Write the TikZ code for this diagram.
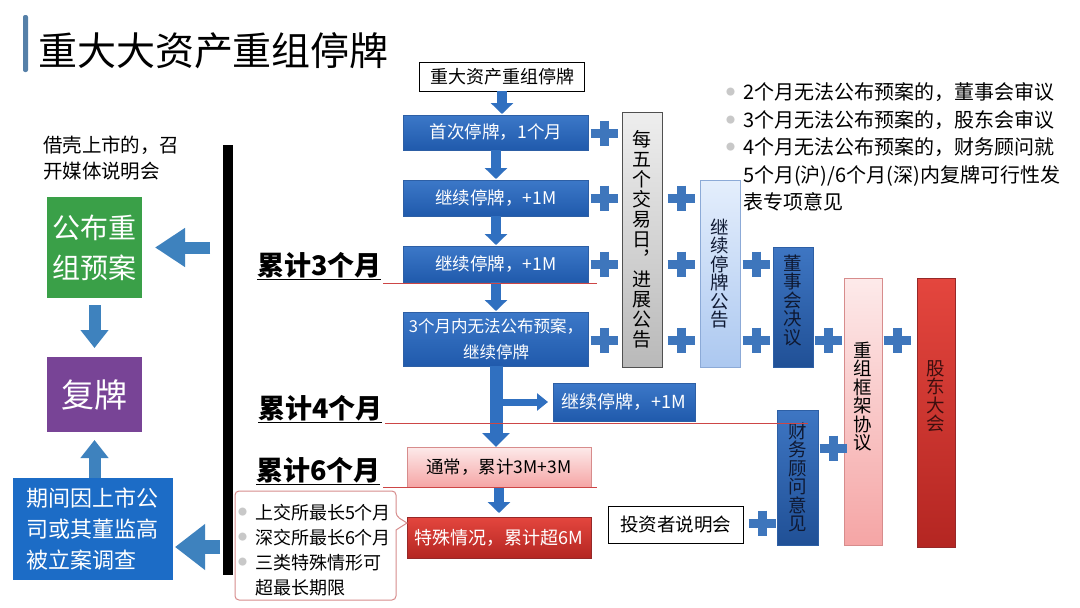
\documentclass[tikz,border=0pt]{standalone}
\usepackage{fontspec}
\setmainfont{Noto Sans CJK SC}
\usepackage{tikz}
\usetikzlibrary{arrows.meta,positioning}

\definecolor{blueA}{RGB}{60,120,200}
\definecolor{blueB}{RGB}{32,90,172}
\definecolor{blueLine}{RGB}{45,95,165}
\definecolor{grayA}{RGB}{238,238,238}
\definecolor{grayB}{RGB}{185,185,185}
\definecolor{grayLine}{RGB}{80,80,80}
\definecolor{skyA}{RGB}{228,238,252}
\definecolor{skyB}{RGB}{172,200,240}
\definecolor{skyLine}{RGB}{140,170,215}
\definecolor{navyA}{RGB}{62,118,195}
\definecolor{navyB}{RGB}{32,80,150}
\definecolor{roseA}{RGB}{253,234,234}
\definecolor{roseB}{RGB}{245,165,165}
\definecolor{roseLine}{RGB}{215,140,140}
\definecolor{crimA}{RGB}{228,70,62}
\definecolor{crimB}{RGB}{180,38,34}
\definecolor{crimLine}{RGB}{150,40,40}
\definecolor{planGreen}{RGB}{58,160,72}
\definecolor{resPurple}{RGB}{120,68,150}
\definecolor{probeBlue}{RGB}{28,108,198}
\definecolor{arrBlue}{RGB}{48,112,192}
\definecolor{sideBlue}{RGB}{62,130,190}
\definecolor{plusBlue}{RGB}{62,118,188}
\definecolor{markRed}{RGB}{205,70,70}
\definecolor{bulGray}{RGB}{200,200,200}
\definecolor{titleBar}{RGB}{85,128,168}
\definecolor{textNavy}{RGB}{15,25,50}

\newcommand{\dotitem}{\makebox[17pt][l]{\raisebox{4pt}{\textcolor{bulGray}{\fontsize{9}{9}\selectfont ●}}}}

\begin{document}
\begin{tikzpicture}[x=1pt, y=-1pt,
  every node/.style={inner sep=0pt, outer sep=0pt},
  plainbox/.style={draw=black, line width=1pt, fill=white, minimum width=165pt,
                   minimum height=29pt, font=\fontsize{18}{18}\selectfont},
  bluebox/.style={draw=blueLine, top color=blueA, bottom color=blueB, text=white,
                  minimum width=185pt, align=center, font=\fontsize{17.5}{26}\selectfont},
  rosebox/.style={draw=roseLine, top color=roseA, bottom color=roseB, minimum width=184pt,
                  font=\fontsize{17.5}{17.5}\selectfont},
  crimbox/.style={draw=crimLine, top color=crimA, bottom color=crimB, text=white,
                  minimum width=184pt, font=\fontsize{18}{18}\selectfont},
  vbox/.style={minimum width=40pt, align=center, font=\fontsize{18.5}{18.5}\selectfont},
  graybox/.style={vbox, draw=grayLine, top color=grayA, bottom color=grayB,
                  font=\fontsize{19}{20}\selectfont},
  skybox/.style={vbox, draw=skyLine, top color=skyA, bottom color=skyB, text=textNavy},
  navybox/.style={vbox, draw=blueLine, top color=navyA, bottom color=navyB, text=textNavy},
  rosevbox/.style={vbox, minimum width=38pt, draw=roseLine, top color=roseA, bottom color=roseB},
  crimvbox/.style={vbox, minimum width=38pt, draw=crimLine, top color=crimA, bottom color=crimB,
                   text={rgb,255:red,60;green,15;blue,15}},
  month/.style={anchor=base west, font=\bfseries\fontsize{27}{27}\selectfont},
  colarr/.style={draw=arrBlue, line width=10pt, -{Triangle[width=22pt,length=11pt]}},
  bigarr/.style={draw=arrBlue, line width=13pt, -{Triangle[width=27pt,length=14pt]}},
  sidearr/.style={draw=arrBlue, line width=7pt, -{Triangle[width=17pt,length=11pt]}},
  leftarr/.style={draw=sideBlue, line width=12pt, -{Triangle[width=37pt,length=30pt]}},
  vertarr/.style={draw=sideBlue, line width=12pt, -{Triangle[width=27pt,length=18pt]}},
  redline/.style={draw=markRed, line width=1pt},
  plusmark/.pic={\draw[plusBlue, line width=9pt] (-13.5,0) -- (13.5,0) (0,-12.5) -- (0,12.5);}
]
\fill[white] (0,0) rectangle (1080,608);
\useasboundingbox (0,0) rectangle (1080,608);

% title
\fill[titleBar, rounded corners=2pt] (23,15) rectangle (28,72);
\node[anchor=base west, font=\fontsize{39}{39}\selectfont] (title) at (38,65) {重大大资产重组停牌};

% main column
\node[plainbox] (start) at (502,76.5) {重大资产重组停牌};
\node[bluebox, minimum height=35pt, below=24pt of start, xshift=-6pt] (first) {首次停牌，1个月};
\node[bluebox, minimum height=36pt, below=30pt of first] (cont1) {继续停牌，+1M};
\node[bluebox, minimum height=36pt, below=30pt of cont1] (cont2) {继续停牌，+1M};
\node[bluebox, minimum height=54pt, below=30pt of cont2, font=\fontsize{16.5}{26}\selectfont] (noplan) {3个月内无法公布预案，\\继续停牌};
\node[rosebox, minimum height=40pt, below=81pt of noplan, xshift=3pt] (usual) {通常，累计3M+3M};
\node[crimbox, minimum height=41pt, below=30pt of usual] (special) {特殊情况，累计超6M};
\node[bluebox, minimum width=142pt, minimum height=38pt, font=\fontsize{18}{18}\selectfont] (cont3) at (624,402) {继续停牌，+1M};

\draw[colarr, shorten >=1pt] (start.south) -- (start.south |- first.north);
\draw[colarr, shorten >=1pt] (first) -- (cont1);
\draw[colarr, shorten >=1pt] (cont1) -- (cont2);
\draw[colarr, shorten >=1pt] (cont2) -- (noplan);
\coordinate (fork) at (noplan.south |- cont3.west);
\draw[bigarr] (noplan.south) -- (noplan.south |- usual.north);
\draw[sidearr, shorten >=5pt] (fork) -- (cont3.west);
\draw[colarr, shorten >=4pt, shorten <=1pt] (usual.south -| special.north) -- (special.north);

% right side
\node[graybox, minimum height=255pt] (weekly) at (642,239.5) {每\\五\\个\\交\\易\\日\\︐\\进\\展\\公\\告};
\node[skybox, minimum height=187pt] (notice) at (720,273.5) {继\\续\\停\\牌\\公\\告};
\node[navybox, minimum height=120pt, text depth=15pt] (board) at (793,307) {董\\事\\会\\决\\议};
\node[rosevbox, minimum height=267pt, text depth=31pt] (frame) at (863,411.5) {重\\组\\框\\架\\协\\议};
\node[crimvbox, minimum height=269pt, text depth=34pt] (meeting) at (936,412.5) {股\\东\\大\\会};
\node[navybox, minimum width=41pt, minimum height=135pt] (advisor) at (797.5,477.5) {财\\务\\顾\\问\\意\\见};
\node[plainbox, minimum width=135pt, minimum height=37pt, font=\fontsize{18.5}{18.5}\selectfont] (investor) at (675.5,524.5) {投资者说明会};

\foreach \px/\py in {604/133, 604/198, 604/264, 604/340, 681/198, 681/264, 681/340,
                     756/264, 756/340, 828/340, 897/340, 833/448, 762/523}
  \pic at (\px,\py) {plusmark};

\node[anchor=west, align=left, font=\fontsize{20}{27.5}\selectfont] (rules) at (726,147)
  {\dotitem 2个月无法公布预案的，董事会审议\\
   \dotitem 3个月无法公布预案的，股东会审议\\
   \dotitem 4个月无法公布预案的，财务顾问就\\
   \hphantom{\dotitem}5个月(沪)/6个月(深)内复牌可行性发\\
   \hphantom{\dotitem}表专项意见};

% left side
\node[fill=black, minimum width=10pt, minimum height=430pt] (bar) at (228,360) {};
\node[anchor=west, align=left, font=\fontsize{19.5}{26}\selectfont] (shellnote) at (43,158) {借壳上市的，召\\开媒体说明会};
\node[fill=planGreen, text=white, minimum width=95pt, minimum height=101pt, align=center,
      font=\fontsize{28}{40}\selectfont] (plan) at (94.5,247.5) {公布重\\组预案};
\node[fill=resPurple, text=white, minimum width=95pt, minimum height=75pt,
      font=\fontsize{33}{33}\selectfont] (resume) at (94.5,394.5) {复牌};
\node[fill=probeBlue, text=white, minimum width=160pt, minimum height=102pt, align=left,
      font=\fontsize{22}{31}\selectfont] (probe) at (93,529) {期间因上市公\\司或其董监高\\被立案调查};

\draw[leftarr, shorten <=13pt, shorten >=13pt] (bar.west |- plan.east) -- (plan.east);
\coordinate (probeIn) at ([yshift=-18pt]probe.east);
\draw[leftarr, line width=14pt, -{Triangle[width=44pt,length=30pt]}, shorten <=3pt, shorten >=2pt]
  (bar.west |- probeIn) -- (probeIn);
\draw[vertarr, shorten <=7pt, shorten >=9pt] (plan.south) -- (resume.north);
\draw[vertarr, shorten >=8pt] (resume.south |- probe.north) -- (resume.south);

% month marks
\node[month] (m3) at (257,275) {\underline{累计3个月}};
\node[month] (m4) at (258,418) {\underline{累计4个月}};
\node[month] (m6) at (256,480) {\underline{累计6个月}};
\draw[redline] (383,283) -- (597,283);
\draw[redline] (385,423) -- (808,423);
\draw[redline] (383,487) -- (597,487);

% callout
\draw[draw=roseLine, line width=1pt, fill=white, rounded corners=4pt]
  (235,491) -- (396,491) -- (396,516) [sharp corners] -- (407,523) -- (396,530)
  [rounded corners=4pt] -- (396,600) -- (235,600) -- cycle;
\node[anchor=west, align=left, font=\fontsize{18}{25}\selectfont] (limits) at (238,550)
  {\dotitem 上交所最长5个月\\
   \dotitem 深交所最长6个月\\
   \dotitem 三类特殊情形可\\
   \hphantom{\dotitem}超最长期限};
\end{tikzpicture}
\end{document}
